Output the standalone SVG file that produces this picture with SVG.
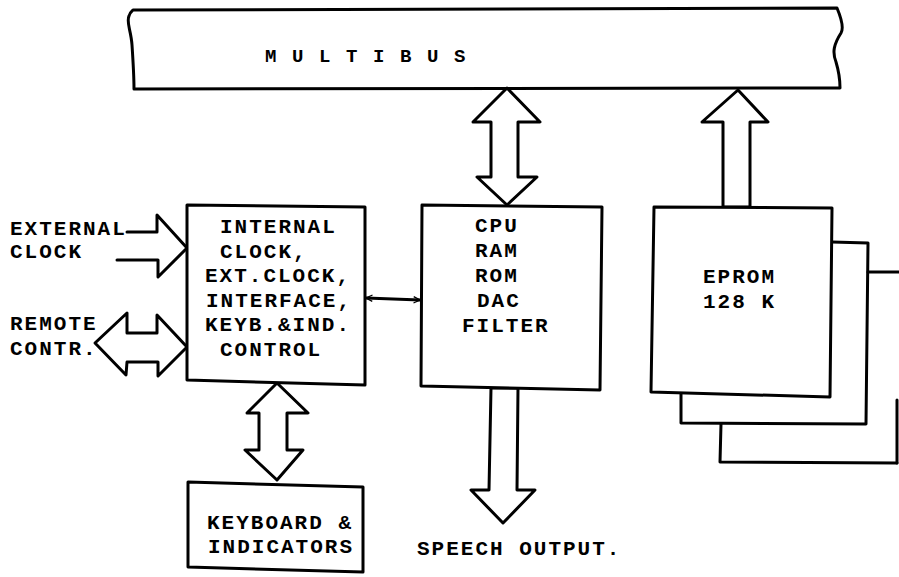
<svg xmlns="http://www.w3.org/2000/svg" width="899" height="577" viewBox="0 0 899 577">
<style>
.ln{fill:none;stroke:#000;stroke-width:3;stroke-linejoin:round;stroke-linecap:round}
.fl{fill:#fff;stroke:#000;stroke-width:3;stroke-linejoin:round}
text{font-family:"Liberation Mono","Courier New",monospace;font-size:21px;font-weight:bold;letter-spacing:2px;fill:#000}
</style>
<defs>
<marker id="v" viewBox="0 0 10 10" refX="9" refY="5" markerWidth="8" markerHeight="8" markerUnits="userSpaceOnUse" orient="auto-start-reverse">
<path d="M1,1 L9,5 L1,9" fill="none" stroke="#000" stroke-width="1.6"/>
</marker>
</defs>
<rect width="899" height="577" fill="#fff"/>
<g id="multibus">
<path class="fl" d="M133,10 L837,8 C842,20 844,28 841,33 C834,44 832,52 836,62 C839,72 840,80 840,88 L134,89 C134,75 133,60 132,45 C131,30 126,22 129,16 C130,12 132,11 133,10 Z"/>
<text x="265" y="62" style="font-size:19px;letter-spacing:2.1px">M U L T I B U S</text>
</g>
<g id="connectors">
<path class="fl" d="M507,88 L540,122 L518,122 L518,177 L537,177 L507,205 L477,177 L491,177 L491,122 L473,122 Z"/>
<path class="fl" d="M738,90 L768,122 L750,122 L750,207 L723,207 L723,122 L702,122 Z"/>
<path class="fl" d="M277,383 L308,413 L287,413 L287,450 L303,450 L277,480 L245,450 L259,450 L259,413 L247,413 Z"/>
<path class="fl" d="M491,388 L518,388 L517,490 L535,490 L503,523 L471,490 L489,490 Z"/>
<path class="ln" d="M127,232 L157,232 L157,215 L187,248 L158,277 L158,260 L117,260"/>
<path class="fl" d="M95,343 L127,313 L127,333 L157,333 L157,315 L187,347 L158,376 L158,362 L127,362 L126,375 Z"/>
<line class="ln" x1="366" y1="298" x2="420" y2="300" stroke-width="2" marker-start="url(#v)" marker-end="url(#v)"/>
</g>
<g id="internal">
<path class="fl" d="M187,205 L365,207 L365,385 L187,380 Z"/>
<text x="220" y="233">INTERNAL</text>
<text x="220" y="258">CLOCK,</text>
<text x="205" y="282">EXT.CLOCK,</text>
<text x="206" y="307">INTERFACE,</text>
<text x="205" y="331">KEYB.&amp;IND.</text>
<text x="220" y="356">CONTROL</text>
</g>
<g id="cpu">
<path class="fl" d="M422,205 L602,207 L600,390 L421,386 Z"/>
<text x="475" y="232">CPU</text>
<text x="475" y="257">RAM</text>
<text x="475" y="282">ROM</text>
<text x="477" y="307">DAC</text>
<text x="462" y="332">FILTER</text>
</g>
<g id="eprom">
<path class="ln" d="M868,272 L899,272"/>
<path class="ln" d="M721,424 L720,462 L897,463" />
<path class="ln" d="M897,463 L897,400" stroke-width="1.5"/>
<path class="ln" d="M832,242 L868,243 L866,424 L681,423 L681,394"/>
<path class="fl" d="M654,207 L832,208 L830,397 L651,392 Z"/>
<text x="703" y="283">EPROM</text>
<text x="703" y="308">128 K</text>
</g>
<g id="keyboard">
<path class="fl" d="M188,482 L363,487 L363,572 L188,567 Z"/>
<text x="207" y="529">KEYBOARD &amp;</text>
<text x="208" y="553">INDICATORS</text>
</g>
<g id="labels">
<text x="10" y="235">EXTERNAL</text>
<text x="10" y="258">CLOCK</text>
<text x="10" y="330">REMOTE</text>
<text x="10" y="355">CONTR.</text>
<text x="417" y="555">SPEECH OUTPUT.</text>
</g>
</svg>
